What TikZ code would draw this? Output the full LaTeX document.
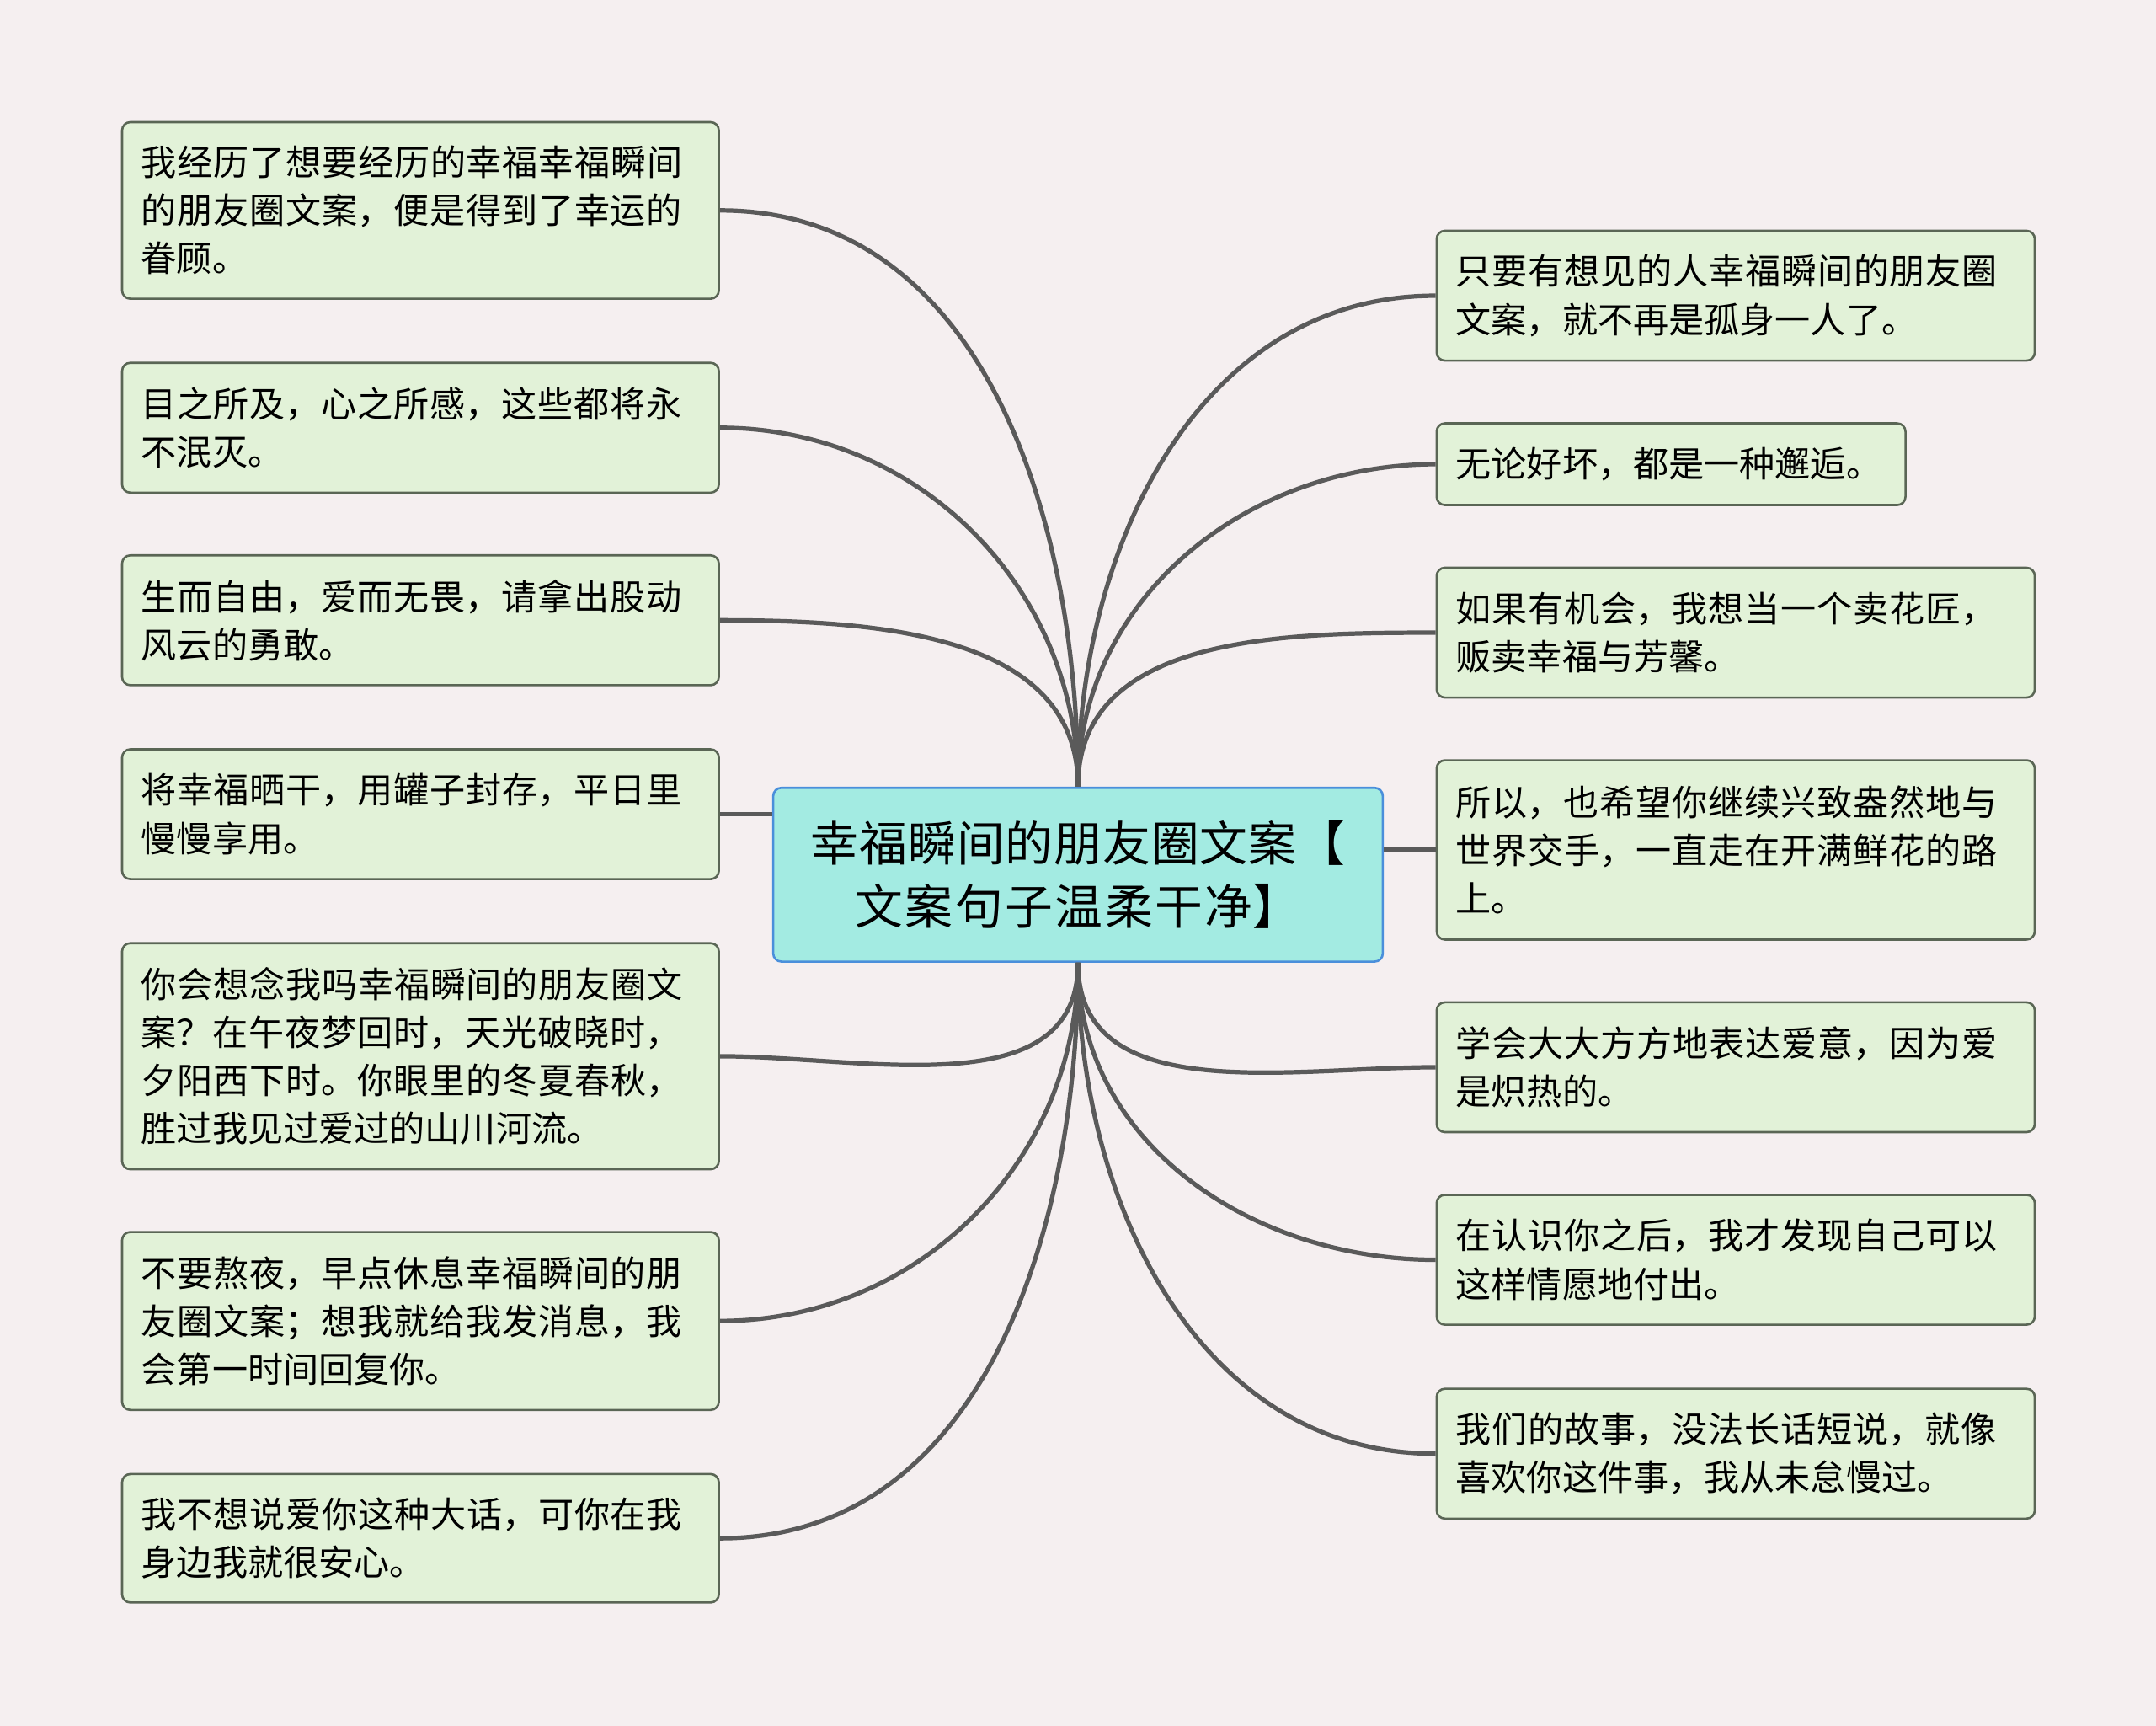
\documentclass[tikz,border=0pt]{standalone}
\usepackage{fontspec}
\setmainfont{Noto Sans CJK SC}
\XeTeXlinebreaklocale "zh"
\XeTeXlinebreakskip=0pt plus 1pt
\definecolor{bg}{HTML}{F5EFF0}
\definecolor{leaf}{HTML}{E2F2D8}
\definecolor{leafb}{HTML}{5A6655}
\definecolor{cfill}{HTML}{A3EBE2}
\definecolor{cbord}{HTML}{4A8FDB}
\definecolor{edge}{HTML}{5A5A5A}
\begin{document}
\begin{tikzpicture}[x=0.5pt,y=-0.5pt,
 leafbox/.style={draw=leafb,fill=leaf,line width=0.8pt,rounded corners=3pt,anchor=north west,align=left,inner xsep=7pt,inner ysep=0pt,font=\fontsize{12.9}{17.5}\selectfont},
 conn/.style={draw=edge,line width=1.6pt}]
\fill[bg] (0,0) rectangle (1568,1255);
\newcommand{\lb}[6]{\pgfmathsetmacro\mw{#4/2-0.8}\pgfmathsetmacro\mh{#5/2-0.8}\pgfmathsetmacro\tw{#4/2-14.5}%
\node[leafbox,minimum width=\mw pt,minimum height=\mh pt,text width=\tw pt] (#1) at (#2,#3) {#6};}
\node[draw=cbord,fill=cfill,line width=0.8pt,rounded corners=3pt,minimum width=221.6pt,minimum height=63.2pt,align=center,font=\fontsize{17.4}{23}\selectfont,text width=215pt] (c) at (784,636) {幸福瞬间的朋友圈文案【\\文案句子温柔干净】};
\lb{l1}{88}{88}{435}{130}{我经历了想要经历的幸福幸福瞬间的朋友圈文案，便是得到了幸运的眷顾。}
\lb{l2}{88}{263}{435}{96}{目之所及，心之所感，这些都将永不泯灭。}
\lb{l3}{88}{403}{435}{96}{生而自由，爱而无畏，请拿出股动风云的勇敢。}
\lb{l4}{88}{544}{435}{96}{将幸福晒干，用罐子封存，平日里慢慢享用。}
\lb{l5}{88}{685}{435}{166}{你会想念我吗幸福瞬间的朋友圈文案？在午夜梦回时，天光破晓时，夕阳西下时。你眼里的冬夏春秋，胜过我见过爱过的山川河流。}
\lb{l6}{88}{895}{435}{131}{不要熬夜，早点休息幸福瞬间的朋友圈文案；想我就给我发消息，我会第一时间回复你。}
\lb{l7}{88}{1071}{435}{95}{我不想说爱你这种大话，可你在我身边我就很安心。}
\lb{r1}{1044}{167}{436}{96}{只要有想见的人幸福瞬间的朋友圈文案，就不再是孤身一人了。}
\lb{r2}{1044}{307}{342}{61}{无论好坏，都是一种邂逅。}
\lb{r3}{1044}{412}{436}{96}{如果有机会，我想当一个卖花匠，贩卖幸福与芳馨。}
\lb{r4}{1044}{552}{436}{132}{所以，也希望你继续兴致盎然地与世界交手，一直走在开满鲜花的路上。}
\lb{r5}{1044}{728}{436}{96}{学会大大方方地表达爱意，因为爱是炽热的。}
\lb{r6}{1044}{868}{436}{96}{在认识你之后，我才发现自己可以这样情愿地付出。}
\lb{r7}{1044}{1009}{436}{96}{我们的故事，没法长话短说，就像喜欢你这件事，我从未怠慢过。}
\coordinate (ct) at (784,572);
\coordinate (cb) at (784,700);
\foreach \n in {l1,l2,l3}{\draw[conn] (ct) to[out=90,in=0] (\n.east);}
\foreach \n in {r1,r2,r3}{\draw[conn] (ct) to[out=90,in=180] (\n.west);}
\foreach \n in {l5,l6,l7}{\draw[conn] (cb) to[out=-90,in=0] (\n.east);}
\foreach \n in {r5,r6,r7}{\draw[conn] (cb) to[out=-90,in=180] (\n.west);}
\draw[conn] (c.west |- l4.east) -- (l4.east);
\draw[conn] (c.east |- r4.west) -- (r4.west);
\end{tikzpicture}
\end{document}
